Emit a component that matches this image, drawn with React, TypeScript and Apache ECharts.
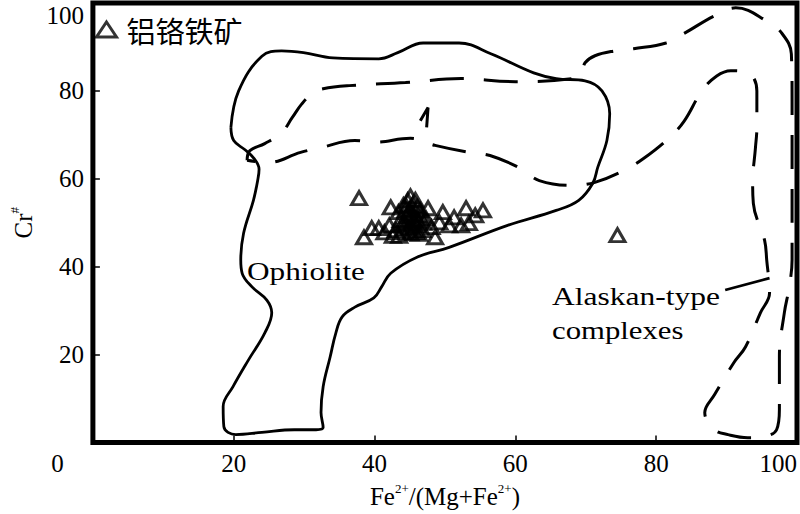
import React, { useEffect, useRef } from "react";
import * as echarts from "echarts";

// Cr-spinel (铝铬铁矿) sample points: Fe2+/(Mg+Fe2+) (x) and Cr# (y)
const sampleX = [37.8, 42.3, 38.5, 39.6, 40.6, 41.4, 42.1, 43.0, 43.7, 44.0, 44.4, 44.7, 45.1, 45.4, 45.7, 46.0, 44.8, 46.5, 46.8, 46.2, 45.1, 47.6, 48.1, 48.6, 49.2, 49.7, 50.6, 51.3, 52.3, 53.0, 53.4, 54.3, 55.4, 47.3, 43.4, 45.0, 45.6, 44.3, 46.3, 43.5, 45.8, 44.6, 45.2, 46.9, 42.6, 44.1, 45.3, 46.1, 44.9, 45.5, 43.9, 46.6, 44.5, 45.9, 74.5];
const sampleY = [55.6, 53.5, 46.7, 48.8, 48.8, 47.8, 49.4, 48.3, 50.6, 47.8, 52.8, 55.1, 56.0, 54.0, 51.7, 49.4, 48.8, 52.8, 48.3, 50.6, 47.6, 53.3, 49.0, 46.7, 50.1, 52.4, 49.4, 51.2, 49.4, 53.3, 49.9, 51.7, 52.8, 51.0, 52.4, 53.0, 50.5, 50.0, 47.5, 47.0, 55.2, 51.5, 49.0, 50.0, 47.0, 54.0, 52.2, 53.6, 50.8, 48.2, 49.6, 51.6, 53.8, 47.9, 47.2];

// Ophiolite field outline (solid)
const ophioliteField: [number, number][] = [
  [19.6, 71.7], [20.7, 80.0], [24.0, 87.9], [26.8, 89.1], [29.9, 88.7], [34.1, 87.5], [40.6, 87.3],
  [43.3, 88.7], [46.9, 90.9], [52.0, 90.9], [56.6, 88.4], [62.6, 84.1], [65.8, 82.8], [69.9, 82.3],
  [72.3, 80.0], [73.4, 74.8], [73.0, 68.7], [71.7, 62.6], [71.0, 59.0], [69.0, 55.1], [65.8, 52.8],
  [58.9, 49.4], [50.6, 44.4], [46.1, 42.2], [42.3, 38.5], [41.0, 35.4], [39.9, 32.9], [37.2, 30.8],
  [35.4, 28.6], [34.5, 24.9], [33.7, 19.5], [32.7, 12.7], [32.4, 6.8], [32.7, 3.4], [31.7, 2.9],
  [28.6, 2.9], [24.0, 2.3], [20.3, 1.8], [18.6, 3.6], [18.5, 8.2], [19.9, 12.7], [22.1, 18.8],
  [24.4, 24.9], [25.4, 29.5], [24.7, 32.4], [22.6, 35.4], [21.2, 38.5], [21.0, 41.5], [21.4, 47.6],
  [22.8, 55.1], [23.4, 59.6], [23.6, 62.2], [22.9, 64.6], [21.6, 66.6], [20.0, 68.7], [19.6, 71.7],
];

// Alaskan-type complexes field outline (dashed)
const alaskanField: [number, number][] = [
  [21.9, 64.2], [22.3, 66.4], [24.4, 68.0], [26.8, 70.5], [28.3, 73.9], [29.7, 77.1], [31.3, 79.6],
  [32.7, 80.5], [36.4, 81.2], [44.4, 81.9], [52.3, 82.8], [60.0, 82.1], [68.1, 82.8], [69.4, 84.1],
  [69.9, 86.4], [71.3, 88.0], [74.1, 89.1], [76.8, 89.6], [81.4, 90.9], [84.1, 93.2], [88.3, 97.1],
  [91.3, 98.9], [95.7, 95.9], [97.9, 93.0], [99.2, 88.4], [99.3, 77.8], [99.3, 61.9], [99.3, 41.5],
  [98.9, 35.4], [98.2, 29.5], [97.5, 19.5], [97.5, 7.5], [97.1, 2.9], [95.4, 1.4], [93.0, 1.1],
  [90.2, 1.8], [88.3, 2.9], [86.9, 6.8], [88.3, 10.9], [91.0, 18.1], [92.7, 21.8], [94.8, 29.5],
  [96.1, 34.0], [95.7, 41.5], [95.4, 46.0], [93.8, 54.4], [93.7, 59.0], [94.1, 67.1], [94.3, 71.7],
  [94.3, 80.0], [93.1, 84.1], [90.6, 84.6], [88.6, 83.4], [86.5, 80.0], [84.0, 73.2], [81.9, 69.4],
  [78.2, 64.6], [75.4, 61.9], [71.3, 59.2], [68.1, 58.5], [63.4, 59.6], [60.7, 62.4], [56.4, 65.3],
  [53.4, 66.0], [48.6, 67.6], [45.1, 69.2], [40.0, 68.3], [37.2, 68.7], [32.4, 67.1], [29.5, 66.0],
  [24.8, 63.7], [21.9, 64.2],
];

const smallMark: [number, number][] = [[46.5, 73.2], [47.6, 76.2], [47.4, 71.7]];
const leaderLine: [number, number][] = [[89.8, 34.7], [96.1, 37.4]];

const xTickLabels = [0, 20, 40, 60, 80, 100];
const yTickLabels = [0, 20, 40, 60, 80, 100];
const originLabel = "0";

const SERIF = "Liberation Serif";

export default function App() {
  const ref = useRef<HTMLDivElement>(null);
  useEffect(() => {
    if (!ref.current) return;
    const chart = echarts.init(ref.current, null, { renderer: "svg" });
    const points = sampleX.map((x, i) => [x, sampleY[i]]);
    chart.setOption({
      animation: false,
      backgroundColor: "#fff",
      textStyle: { fontFamily: SERIF, color: "#000" },
      grid: { left: 73, right: 3, top: 3, bottom: 71, show: true, borderColor: "#000", borderWidth: 5 },
      legend: {
        data: ["铝铬铁矿"],
        left: 95,
        top: 15,
        padding: 0,
        itemWidth: 20,
        itemHeight: 15,
        itemStyle: { borderWidth: 3, borderColor: "#000", color: "rgba(0,0,0,0)" },
        textStyle: { fontFamily: "Noto Sans CJK SC", fontSize: 29, color: "#000", padding: [0, 0, 0, 5] },
      },
      xAxis: {
        type: "value",
        min: xTickLabels[0],
        max: xTickLabels[xTickLabels.length - 1],
        interval: 20,
        axisLine: { show: false },
        axisTick: { inside: true, length: 7, lineStyle: { color: "#000", width: 1.5 } },
        splitLine: { show: false },
        axisLabel: {
          fontFamily: SERIF,
          fontSize: 25,
          color: "#000",
          margin: 8,
          showMinLabel: false,
          alignMaxLabel: "right",
        },
        name: "{a|Fe}{s|2+}{a|/(Mg+Fe}{s|2+}{a|)}",
        nameLocation: "middle",
        nameGap: 39,
        nameTextStyle: {
          rich: {
            a: { fontFamily: SERIF, fontSize: 25, color: "#000", lineHeight: 30 },
            s: { fontFamily: SERIF, fontSize: 13, color: "#000", verticalAlign: "top", lineHeight: 16 },
          },
        },
      },
      yAxis: {
        type: "value",
        min: yTickLabels[0],
        max: yTickLabels[yTickLabels.length - 1],
        interval: 20,
        axisLine: { show: false },
        axisTick: { inside: true, length: 7, lineStyle: { color: "#000", width: 1.5 } },
        splitLine: { show: false },
        axisLabel: {
          fontFamily: SERIF,
          fontSize: 25,
          color: "#000",
          margin: 9,
          showMinLabel: false,
          verticalAlignMaxLabel: "top",
        },
        name: "{a|Cr}{s|#}",
        nameLocation: "middle",
        nameGap: 50,
        nameTextStyle: {
          rich: {
            a: { fontFamily: SERIF, fontSize: 25, color: "#000", lineHeight: 30 },
            s: { fontFamily: SERIF, fontSize: 13, color: "#000", verticalAlign: "top", lineHeight: 16 },
          },
        },
      },
      series: [
        {
          name: "Ophiolite",
          type: "line",
          data: ophioliteField,
          smooth: 0.4,
          symbol: "none",
          lineStyle: { color: "#000", width: 2.8 },
          z: 3,
          silent: true,
        },
        {
          name: "Alaskan-type complexes",
          type: "line",
          data: alaskanField,
          smooth: 0.4,
          symbol: "none",
          lineStyle: { color: "#000", width: 3, type: [34, 20] },
          z: 3,
          silent: true,
        },
        {
          name: "mark",
          type: "line",
          data: smallMark,
          smooth: 0.3,
          symbol: "none",
          lineStyle: { color: "#000", width: 3 },
          z: 3,
          silent: true,
        },
        {
          name: "leader",
          type: "line",
          data: leaderLine,
          symbol: "none",
          lineStyle: { color: "#000", width: 2.8 },
          z: 3,
          silent: true,
        },
        {
          name: "铝铬铁矿",
          type: "scatter",
          data: points,
          symbol: "triangle",
          symbolSize: [15, 13],
          itemStyle: { color: "rgba(0,0,0,0)", borderColor: "#000", borderWidth: 3 },
          z: 5,
        },
      ],
      graphic: [
        {
          type: "text",
          x: 57.5,
          y: 463,
          style: { text: originLabel, fontFamily: SERIF, fontSize: 25, fill: "#000", align: "center", verticalAlign: "middle" },
        },
        {
          type: "text",
          x: 247,
          y: 272,
          scaleX: 1.25,
          style: { text: "Ophiolite", fontFamily: SERIF, fontSize: 25, fill: "#000", verticalAlign: "middle" },
        },
        {
          type: "text",
          x: 552,
          y: 297,
          scaleX: 1.26,
          style: { text: "Alaskan-type", fontFamily: SERIF, fontSize: 25, fill: "#000", verticalAlign: "middle" },
        },
        {
          type: "text",
          x: 552,
          y: 331,
          scaleX: 1.23,
          style: { text: "complexes", fontFamily: SERIF, fontSize: 25, fill: "#000", verticalAlign: "middle" },
        },
      ],
    });
    return () => chart.dispose();
  }, []);
  return <div ref={ref} style={{ width: 800, height: 514, position: "absolute", left: 0, top: 0 }} />;
}
